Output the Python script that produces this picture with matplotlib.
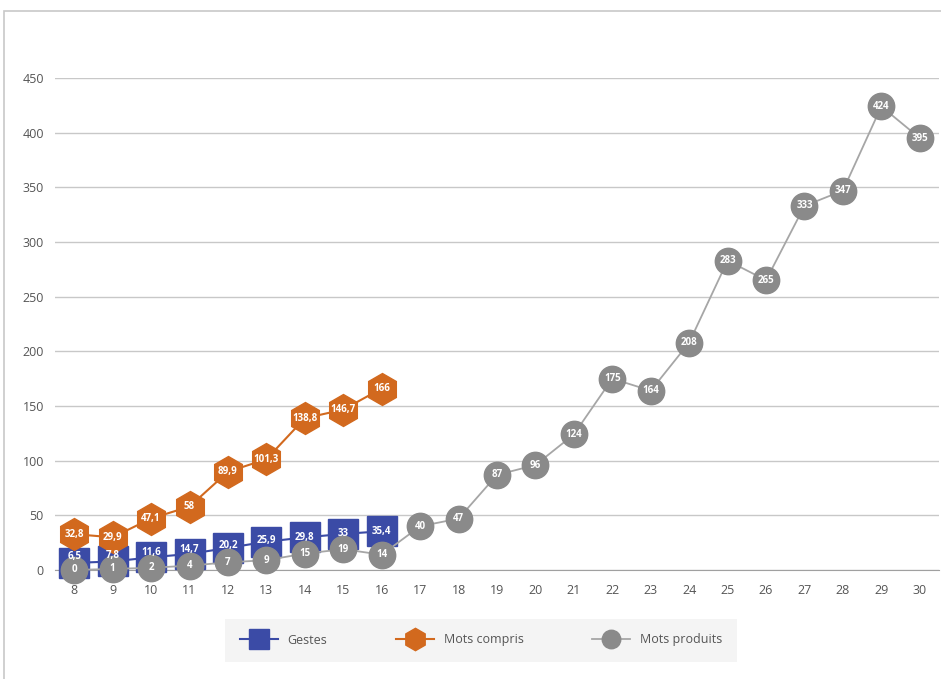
import matplotlib
matplotlib.use("Agg")
import matplotlib.pyplot as plt
from matplotlib.patches import Rectangle

months = list(range(8, 31))
gestes = [6.5, 7.8, 11.6, 14.7, 20.2, 25.9, 29.8, 33, 35.4]
mots_compris = [32.8, 29.9, 47.1, 58, 89.9, 101.3, 138.8, 146.7, 166]
mots_produits = [0, 1, 2, 4, 7, 9, 15, 19, 14, 40, 47, 87, 96, 124, 175, 164,
                 208, 283, 265, 333, 347, 424, 395]
yticks = [0, 50, 100, 150, 200, 250, 300, 350, 400, 450]

plt.rcParams['font.family'] = ['Open Sans', 'DejaVu Sans']

fig = plt.figure(figsize=(9.41, 6.79), dpi=100)
fig.patches.append(Rectangle((4/941, -0.1), 1.2, (679-11)/679 + 0.1, transform=fig.transFigure,
                             fill=False, edgecolor='#c8c8c8', linewidth=1.2))
ax = fig.add_axes([55/941, 109/679, 884/941, 492/679])

x_idx = list(range(len(months)))
blue = '#3b4ba6'
orange = '#d2691e'
grey = '#8a8a8a'

def fmt(v):
    return ('%g' % v).replace('.', ',')

ax.plot(x_idx[:len(gestes)], gestes, color=blue, lw=1.5, marker='s', ms=21,
        mfc=blue, mec=blue, label='Gestes', zorder=3, clip_on=False)
ax.plot(x_idx[:len(mots_compris)], mots_compris, color=orange, lw=1.5, marker='h', ms=23,
        mfc=orange, mec=orange, label='Mots compris', zorder=4, clip_on=False)
ax.plot(x_idx, mots_produits, color='#a6a6a6', lw=1.3, marker='o', ms=19,
        mfc=grey, mec=grey, label='Mots produits', zorder=5, clip_on=False)

for i, v in enumerate(gestes):
    off = max(0.0, 6.0 - v * 0.2)
    ax.annotate(fmt(v), (i, v), xytext=(0, off), textcoords='offset points',
                ha='center', va='center', color='white', fontsize=7,
                fontweight='bold', zorder=6, annotation_clip=False)
for i, v in enumerate(mots_compris):
    ax.text(i, v, fmt(v), ha='center', va='center', color='white', fontsize=7,
            fontweight='bold', zorder=7, clip_on=False)
for i, v in enumerate(mots_produits):
    ax.text(i, v, fmt(v), ha='center', va='center', color='white', fontsize=7,
            fontweight='bold', zorder=8, clip_on=False)

ax.set_xlim(-0.5, len(months) - 0.5)
ax.set_ylim(0, 450)
ax.set_yticks(yticks)
ax.set_xticks(x_idx)
ax.set_xticklabels([str(m) for m in months])
ax.grid(axis='y', color='#c8c8c8', lw=1)
ax.set_axisbelow(True)
for s in ['top', 'right', 'left']:
    ax.spines[s].set_visible(False)
ax.spines['bottom'].set_color('#a0a0a0')
ax.tick_params(axis='both', length=0, labelsize=9, colors='#555555')
ax.tick_params(axis='y', pad=8)
ax.tick_params(axis='x', pad=10)

leg = fig.legend(loc='center', bbox_to_anchor=(481/941, 1 - 640/679), ncol=3,
                 frameon=True, facecolor='#f2f2f2', edgecolor='#f2f2f2',
                 fontsize=9, columnspacing=5.5, handlelength=3, markerscale=0.7,
                 borderpad=1.2, fancybox=False, labelcolor='#555555')
leg.get_frame().set_linewidth(0)

fig.savefig('out.png', dpi=100)
